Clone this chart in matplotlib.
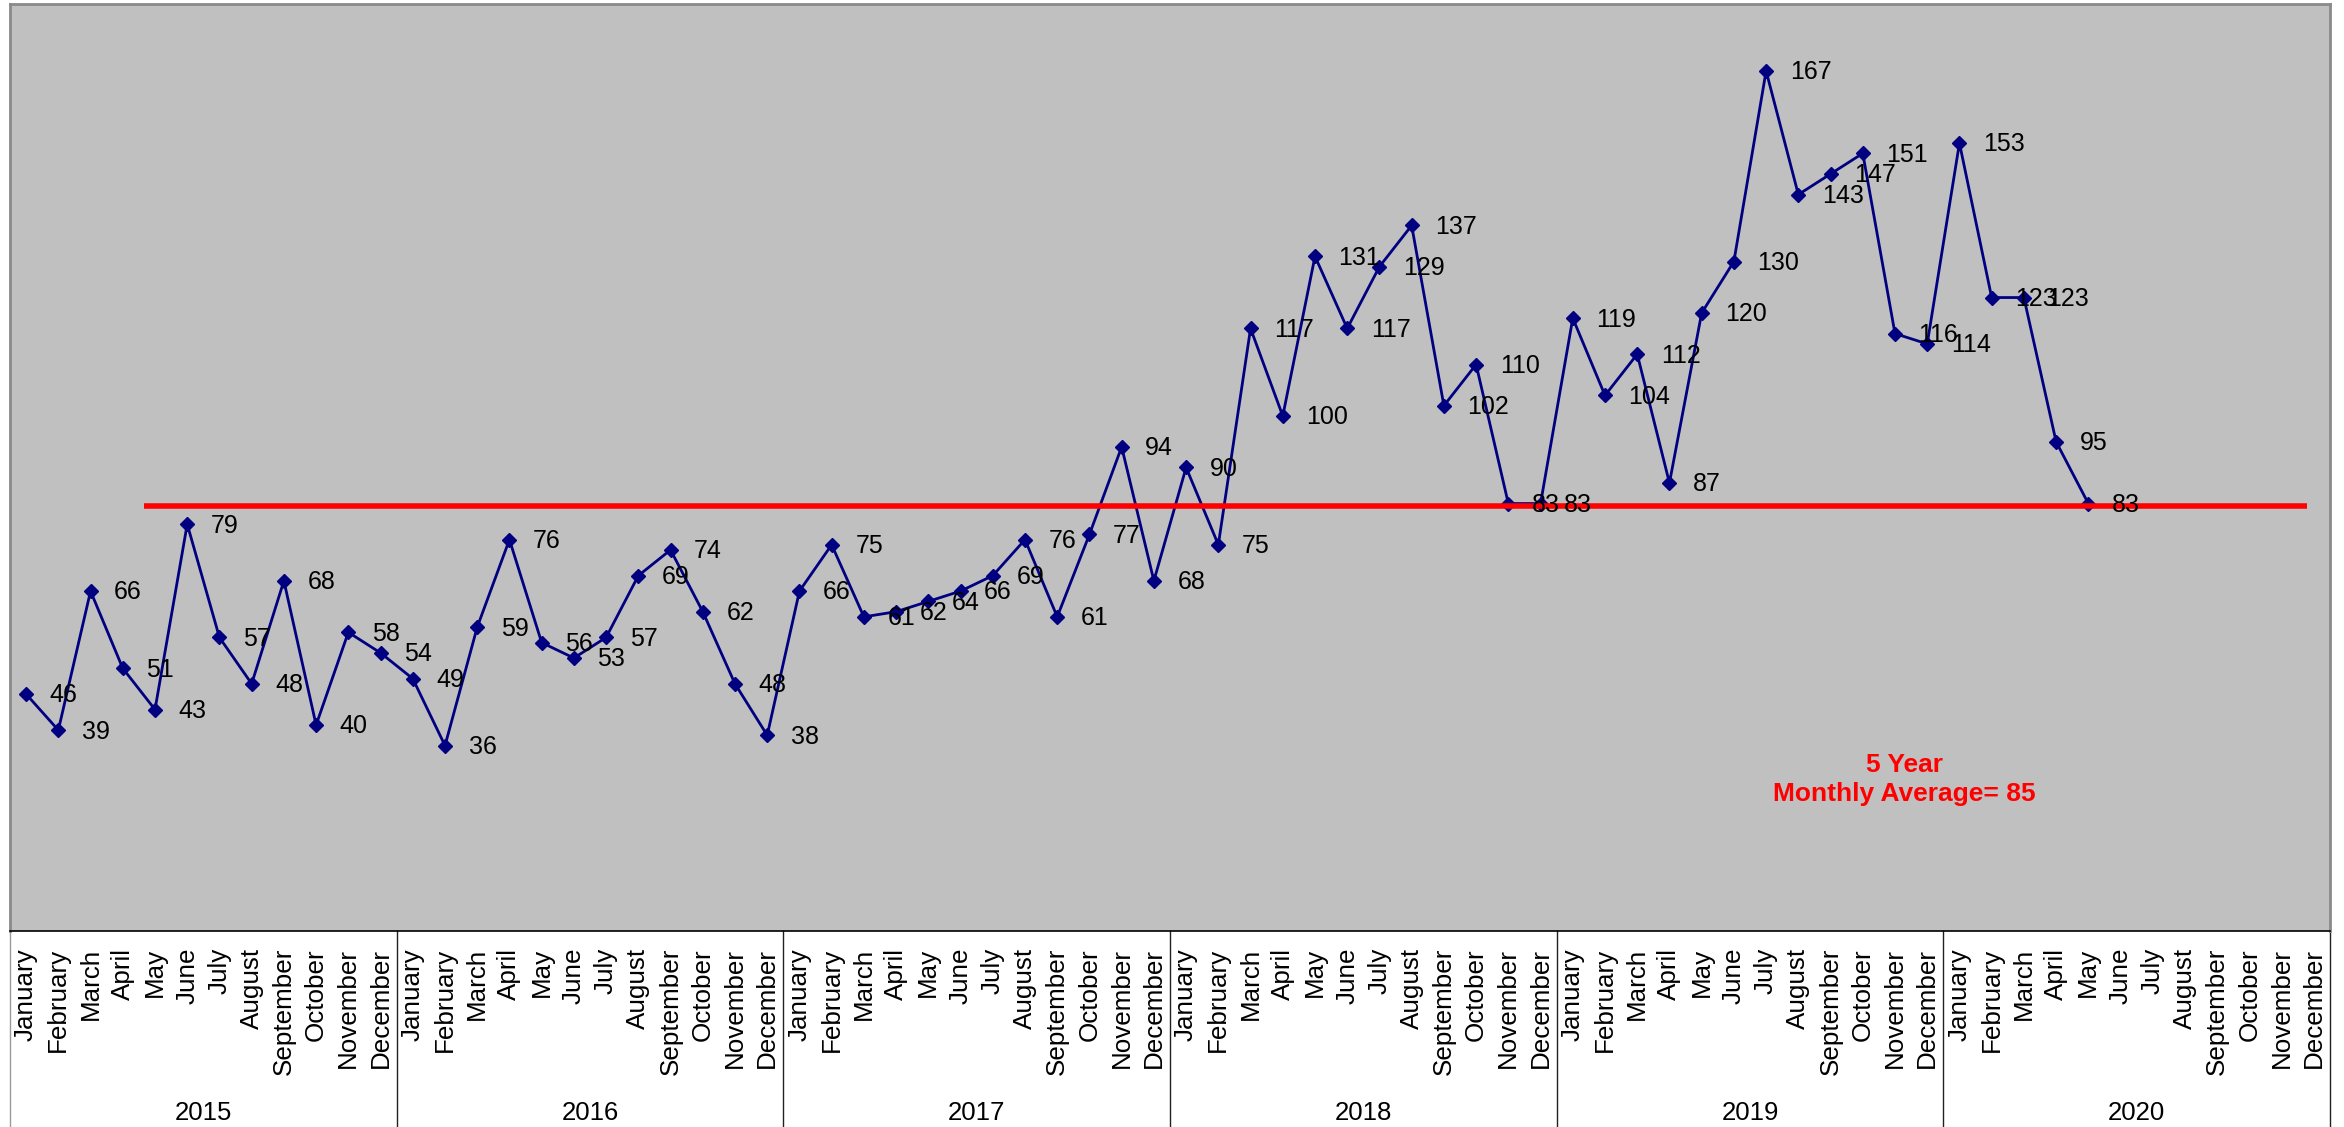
import matplotlib
matplotlib.use('Agg')
import matplotlib.pyplot as plt
import matplotlib.transforms as mtransforms

plt.rcParams['font.family'] = ['Liberation Sans', 'DejaVu Sans']

# Monthly counts
months = ['January', 'February', 'March', 'April', 'May', 'June', 'July',
          'August', 'September', 'October', 'November', 'December']
years = ['2015', '2016', '2017', '2018', '2019', '2020']

counts_2015 = [46, 39, 66, 51, 43, 79, 57, 48, 68, 40, 58, 54]
counts_2016 = [49, 36, 59, 76, 56, 53, 57, 69, 74, 62, 48, 38]
counts_2017 = [66, 75, 61, 62, 64, 66, 69, 76, 61, 77, 94, 68]
counts_2018 = [90, 75, 117, 100, 131, 117, 129, 137, 102, 110, 83, 83]
counts_2019 = [119, 104, 112, 87, 120, 130, 167, 143, 147, 151, 116, 114]
counts_2020 = [153, 123, 123, 95, 83]

avg_label = 85          # value printed in the note
avg_line_level = 82.6   # where the red bar sits in the picture

values = counts_2015 + counts_2016 + counts_2017 + counts_2018 + counts_2019 + counts_2020
x = list(range(len(values)))
n_cats = len(months) * len(years)

W, H = 2344, 1127
fig = plt.figure(figsize=(W / 100, H / 100), dpi=100)
ax = fig.add_axes([10 / W, 196 / H, 2320 / W, 927 / H])
ax.set_facecolor('#C0C0C0')
ax.set_xlim(-0.5, n_cats - 0.5)
ax.set_ylim(0, 180)
ax.set_xticks([])
ax.set_yticks([])
for side in ['top', 'right', 'left']:
    ax.spines[side].set_color('#8a8a8a')
    ax.spines[side].set_linewidth(2)
ax.spines['bottom'].set_color('black')
ax.spines['bottom'].set_linewidth(1.2)

# main series
ax.plot(x, values, color='#000080', lw=2, marker='D', ms=7.5,
        mfc='#000080', mec='#000080', zorder=2)
for xi, v in zip(x, values):
    ax.annotate(str(v), (xi, v), xytext=(17, -1), textcoords='offset points',
                ha='left', va='center', fontsize=18, color='black', zorder=4)

# red average bar + note
ax.hlines(avg_line_level, 3.66, 70.8, color='#FF0000', lw=4, zorder=3)
ax.text(0.8164, 0.1634, '5 Year\nMonthly Average= %d' % avg_label,
        transform=ax.transAxes, color='#FF0000', fontweight='bold',
        fontsize=19, ha='center', va='center', linespacing=1.3,
        multialignment='center')

# two-level category axis
trans = mtransforms.blended_transform_factory(ax.transData, ax.transAxes)
for i in range(n_cats):
    ax.text(i, -17 / 927, months[i % 12], transform=trans, rotation=90,
            ha='center', va='top', fontsize=18.7, clip_on=False)
for j, yr in enumerate(years):
    ax.text(j * 12 + 5.5, -189 / 927, yr, transform=trans, ha='center',
            va='baseline', fontsize=18.5, clip_on=False)
for j in range(len(years) + 1):
    b = j * 12 - 0.5
    col = '#9a9a9a' if j == 0 else '#202020'
    ax.plot([b, b], [0, -196 / 927], transform=trans, clip_on=False,
            color=col, lw=1)

fig.savefig('out.png', dpi=100)
